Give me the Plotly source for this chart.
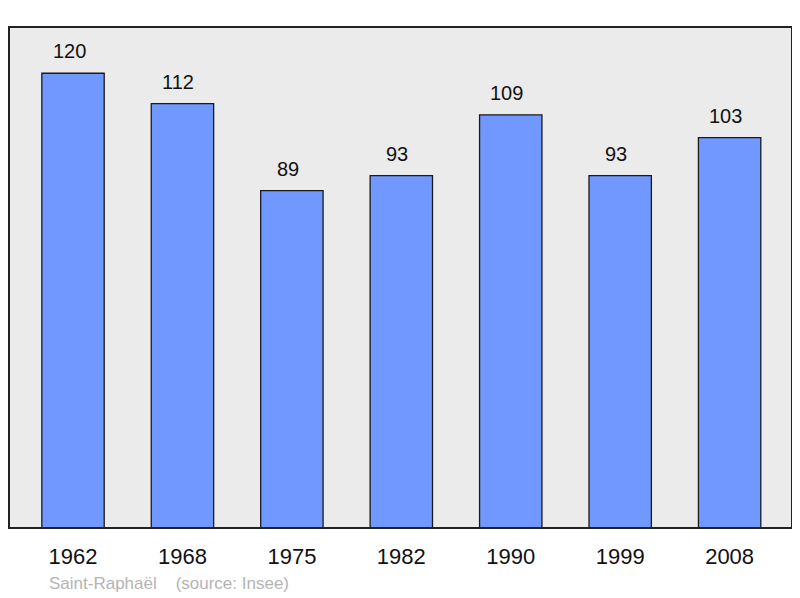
import plotly.graph_objects as go

years = ["1962", "1968", "1975", "1982", "1990", "1999", "2008"]
population = [120, 112, 89, 93, 109, 93, 103]

fig = go.Figure()
fig.add_trace(go.Bar(
    x=years, y=population,
    width=0.57,
    marker=dict(color="#7098ff", line=dict(color="#1a1a1a", width=1.3)),
    hoverinfo="skip",
))
for i, v in enumerate(population):
    fig.add_annotation(x=i, y=v, text=str(v), showarrow=False,
                       yanchor="bottom", yshift=9, xshift=-4,
                       font=dict(family="Liberation Sans, Arial", size=20, color="#111"))

fig.add_shape(type="rect", xref="paper", yref="paper", x0=0, x1=1, y0=0, y1=1,
              line=dict(color="#222", width=2), layer="above")

fig.add_annotation(xref="paper", yref="paper", x=0.049, y=-0.111, xanchor="left",
                   yanchor="middle", showarrow=False,
                   text="Saint-Raphaël&nbsp;&nbsp;&nbsp;&nbsp;(source: Insee)",
                   font=dict(family="Liberation Sans, Arial", size=17, color="#b4b4b4"))

fig.update_layout(
    width=784, height=590,
    margin=dict(l=1, r=0, t=19, b=70),
    paper_bgcolor="white", plot_bgcolor="#ebebeb",
    showlegend=False,
    xaxis=dict(type="category", range=[-0.585, 6.57], showgrid=False, zeroline=False,
               ticks="outside", ticklen=9, tickcolor="rgba(0,0,0,0)",
               tickfont=dict(family="Liberation Sans, Arial", size=22, color="#111"),
               fixedrange=True),
    yaxis=dict(range=[0, 132.2], showgrid=False, zeroline=False,
               showticklabels=False, fixedrange=True),
)
fig.write_html("out.html")
